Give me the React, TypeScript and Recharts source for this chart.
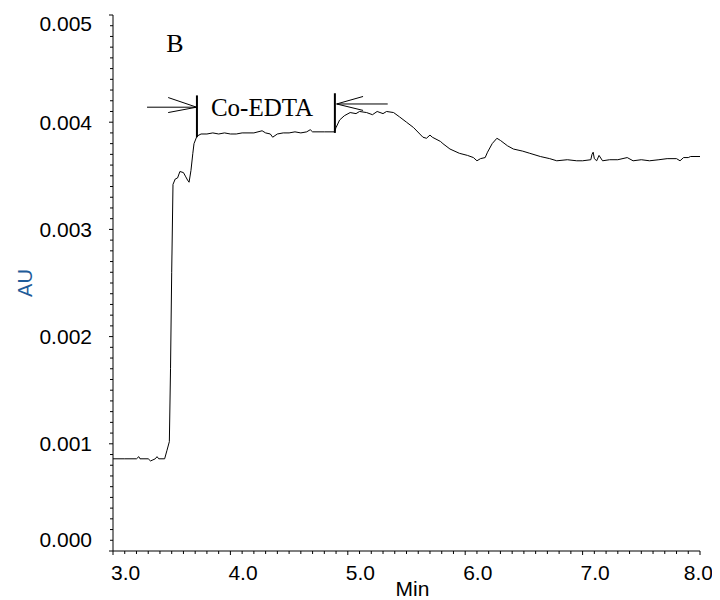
import { LineChart, Line, XAxis, YAxis, ReferenceLine, ReferenceDot } from "recharts";

// retention time (min) and absorbance (AU)
const times = [
  3.0, 3.1, 3.2, 3.22, 3.23, 3.3, 3.32, 3.34, 3.36, 3.375, 3.39, 3.44, 3.46, 3.48, 3.49, 3.5,
  3.511, 3.53, 3.55, 3.57, 3.6, 3.62, 3.635, 3.648, 3.664, 3.68, 3.69, 3.715, 3.75, 3.8, 3.85,
  3.9, 3.95, 4.0, 4.05, 4.1, 4.15, 4.2, 4.27, 4.3, 4.34, 4.36, 4.4, 4.45, 4.5, 4.55, 4.6, 4.65,
  4.68, 4.7, 4.8, 4.885, 4.9, 4.93, 4.97, 5.02, 5.07, 5.1, 5.16, 5.21, 5.25, 5.3, 5.33, 5.39,
  5.44, 5.5, 5.56, 5.64, 5.67, 5.7, 5.72, 5.79, 5.81, 5.87, 5.95, 6.02, 6.07, 6.1, 6.13, 6.17,
  6.19, 6.23, 6.27, 6.3, 6.36, 6.41, 6.49, 6.55, 6.64, 6.72, 6.78, 6.87, 6.95, 7.0, 7.07, 7.08,
  7.09, 7.1, 7.12, 7.14, 7.17, 7.23, 7.3, 7.38, 7.43, 7.5, 7.57, 7.65, 7.72, 7.8, 7.83, 7.86,
  7.9, 7.92, 8.0,
];

const absorbance = [
  0.00086, 0.00086, 0.00086, 0.00088, 0.00086, 0.00086, 0.00084, 0.00085, 0.00086, 0.00088,
  0.00086, 0.00086, 0.00094, 0.00102, 0.0017, 0.0026, 0.00342, 0.00347, 0.00348, 0.00354,
  0.00353, 0.00349, 0.00346, 0.00344, 0.00355, 0.00371, 0.0038, 0.00387, 0.00389, 0.00389,
  0.0039, 0.00389, 0.0039, 0.00389, 0.00389, 0.0039, 0.0039, 0.0039, 0.00392, 0.0039, 0.00389,
  0.00386, 0.00389, 0.0039, 0.0039, 0.00391, 0.0039, 0.00391, 0.00393, 0.00391, 0.00391,
  0.00391, 0.00395, 0.00402, 0.00406, 0.00409, 0.00408, 0.0041, 0.00409, 0.00407, 0.0041,
  0.00408, 0.0041, 0.00409, 0.00405, 0.004, 0.00395, 0.00386, 0.00385, 0.00388, 0.00386,
  0.00382, 0.0038, 0.00375, 0.00371, 0.00369, 0.00367, 0.00364, 0.00366, 0.00367, 0.00372,
  0.0038, 0.00385, 0.00383, 0.00378, 0.00375, 0.00373, 0.00371, 0.00368, 0.00366, 0.00364,
  0.00365, 0.00364, 0.00364, 0.00365, 0.0037, 0.00372, 0.00366, 0.00364, 0.00369, 0.00364,
  0.00365, 0.00365, 0.00367, 0.00364, 0.00365, 0.00364, 0.00365, 0.00366, 0.00366, 0.00364,
  0.00367, 0.00367, 0.00368, 0.00368,
];

const xMajorTicks = [3, 4, 5, 6, 7, 8];
const yMajorTicks = [0, 0.001, 0.002, 0.003, 0.004, 0.005];

const data = times.map((t, i) => ({ t, au: absorbance[i] }));

// minor ticks every 0.1 min / 0.0001 AU
const xTicks = Array.from({ length: 51 }, (_, i) => Math.round(30 + i) / 10);
const yTicks = Array.from({ length: 51 }, (_, i) => i / 10000);

const SANS = "'Liberation Sans', Arial, sans-serif";
const SERIF = "'Liberation Serif', 'Times New Roman', serif";

function XTick(props: any) {
  const { x, y, payload } = props;
  const v = payload.value;
  const major = xMajorTicks.includes(v);
  const last = v === xMajorTicks[xMajorTicks.length - 1];
  return (
    <g>
      <line x1={x} x2={x} y1={y} y2={y + (major ? 4 : 3)} stroke="#000" />
      {major && (
        <text
          x={last ? x + 13 : x - 2}
          y={y + 28.5}
          textAnchor={last ? "end" : "start"}
          fontSize={21}
          fontFamily={SANS}
          fill="#000"
        >
          {v.toFixed(1)}
        </text>
      )}
    </g>
  );
}

function YTick(props: any) {
  const { x, y, payload } = props;
  const v = payload.value;
  const major = yMajorTicks.includes(v);
  // end labels sit inside the frame, like the original software
  let ly = y;
  if (v === 0.005) ly = y + 8;
  if (v === 0) ly = y - 12;
  return (
    <g>
      <line x1={x - (major ? 4 : 3)} x2={x} y1={y} y2={y} stroke="#000" />
      {major && (
        <text x={x - 21} y={ly + 7.5} textAnchor="end" fontSize={21} fontFamily={SANS} fill="#000">
          {v.toFixed(3)}
        </text>
      )}
    </g>
  );
}

const arrowLine = { stroke: "#000", strokeWidth: 1, ifOverflow: "visible" as const };
const barLine = { stroke: "#000", strokeWidth: 2, ifOverflow: "visible" as const };

export default function App() {
  return (
    <div style={{ width: 712, height: 592 }}>
      <LineChart
        width={712}
        height={592}
        data={data}
        margin={{ top: 7, right: 20, bottom: 0, left: 0 }}
        style={{ overflow: "visible" }}
      >
        <XAxis
          dataKey="t"
          type="number"
          domain={[3, 8]}
          ticks={xTicks}
          interval={0}
          tick={(p: any) => <XTick {...p} />}
          tickLine={false}
          tickSize={0}
          tickMargin={0}
          height={49}
          axisLine={{ stroke: "#000" }}
          label={{
            value: "Min",
            content: (p: any) => (
              <text
                x={p.viewBox.x + p.viewBox.width / 2 + 6}
                y={p.viewBox.y + 45}
                textAnchor="middle"
                fontSize={21}
                fontFamily={SANS}
                fill="#000"
              >
                Min
              </text>
            ),
          }}
        />
        <XAxis xAxisId="top" orientation="top" type="number" domain={[3, 8]} height={0} tick={false} tickLine={false} axisLine={{ stroke: "#000" }} />
        <YAxis
          type="number"
          domain={[0, 0.005]}
          ticks={yTicks}
          interval={0}
          tick={(p: any) => <YTick {...p} />}
          tickLine={false}
          tickSize={0}
          tickMargin={0}
          width={105}
          axisLine={{ stroke: "#000" }}
          label={{
            value: "AU",
            content: (p: any) => {
              const cx = p.viewBox.x + 17;
              const cy = p.viewBox.y + p.viewBox.height / 2;
              return (
                <text
                  x={cx}
                  y={cy}
                  dy={7}
                  transform={`rotate(-90, ${cx}, ${cy})`}
                  textAnchor="middle"
                  fontSize={20}
                  fontFamily={SANS}
                  fill="#1f5c99"
                >
                  AU
                </text>
              );
            },
          }}
        />
        <YAxis yAxisId="right" orientation="right" type="number" domain={[0, 0.005]} width={0} tick={false} tickLine={false} axisLine={{ stroke: "#000" }} />

        <Line type="linear" dataKey="au" stroke="#000" strokeWidth={1} dot={false} isAnimationActive={false} />

        {/* Co-EDTA window markers */}
        <ReferenceLine segment={[{ x: 3.715, y: 0.00386 }, { x: 3.715, y: 0.00425 }]} {...barLine} />
        <ReferenceLine segment={[{ x: 4.89, y: 0.0039 }, { x: 4.89, y: 0.00427 }]} {...barLine} />
        <ReferenceLine segment={[{ x: 3.29, y: 0.00414 }, { x: 3.712, y: 0.00414 }]} {...arrowLine} />
        <ReferenceLine segment={[{ x: 3.47, y: 0.00423 }, { x: 3.712, y: 0.00414 }]} {...arrowLine} />
        <ReferenceLine segment={[{ x: 3.47, y: 0.00409 }, { x: 3.712, y: 0.00414 }]} {...arrowLine} />
        <ReferenceLine segment={[{ x: 4.905, y: 0.00417 }, { x: 5.34, y: 0.00417 }]} {...arrowLine} />
        <ReferenceLine segment={[{ x: 4.905, y: 0.00417 }, { x: 5.13, y: 0.00424 }]} {...arrowLine} />
        <ReferenceLine segment={[{ x: 4.905, y: 0.00417 }, { x: 5.13, y: 0.00411 }]} {...arrowLine} />

        <ReferenceDot
          x={3.528}
          y={0.00474}
          r={0}
          fill="none"
          stroke="none"
          label={{ value: "B", position: "center", fontSize: 26, fontFamily: SERIF, fill: "#000" }}
        />
        <ReferenceDot
          x={4.269}
          y={0.00414}
          r={0}
          fill="none"
          stroke="none"
          label={{ value: "Co-EDTA", position: "center", fontSize: 25, fontFamily: SERIF, fill: "#000" }}
        />
      </LineChart>
    </div>
  );
}
